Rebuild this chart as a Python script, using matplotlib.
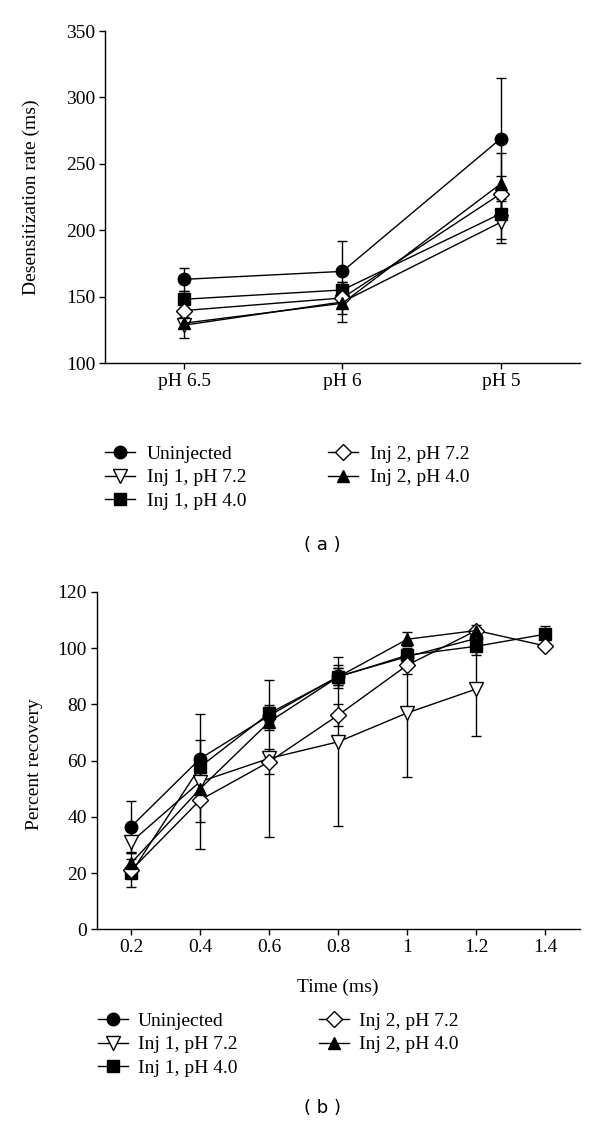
import numpy as np
import matplotlib
matplotlib.use("Agg")
import matplotlib.pyplot as plt

# ---- panel (a): desensitization rate ----
ph_labels = ["pH 6.5", "pH 6", "pH 5"]
a_uninj = [163, 169, 269]
a_uninj_err = [8.5, 22.6, 45.5]
a_inj1_72 = [128.5, 146, 206]
a_inj1_72_err = [9.5, 15, 16]
a_inj1_40 = [148, 155, 212.5]
a_inj1_40_err = [6, 6, 19]
a_inj2_72 = [139.5, 149, 227.5]
a_inj2_72_err = [5, 6, 13]
a_inj2_40 = [130, 145, 235]
a_inj2_40_err = [4, 8, 23]

# ---- panel (b): percent recovery ----
time_ms = [0.2, 0.4, 0.6, 0.8, 1.0, 1.2, 1.4]
time_labels = ["0.2", "0.4", "0.6", "0.8", "1", "1.2", "1.4"]
b_uninj = [36.5, 60.7, 76, 90, 97, 103.5]
b_uninj_err = [9.2, 6.6, 3, 4, 3, 2]
b_inj1_72 = [31, 52.5, 60.8, 66.7, 77, 85.5]
b_inj1_72_err = [4, 24, 28, 30, 22.7, 16.7]
b_inj1_40 = [20, 57.8, 76.8, 89.8, 97.5, 100.7, 105]
b_inj1_40_err = [5, 3, 3, 3, 2, 3, 3]
b_inj2_72 = [21, 46, 59.6, 76.2, 94, 106.3, 100.8]
b_inj2_72_err = [2, 8, 4.5, 4, 3, 1, 1]
b_inj2_40 = [23.5, 50, 73.8, 89.8, 103.2, 106.3]
b_inj2_40_err = [4, 4, 3, 3, 2.4, 2]

labels = ["Uninjected", "Inj 1, pH 7.2", "Inj 1, pH 4.0", "Inj 2, pH 7.2", "Inj 2, pH 4.0"]
markers = ["o", "v", "s", "D", "^"]
faces = ["black", "white", "black", "white", "black"]
sizes = [9, 10, 8, 8, 9]

plt.rcParams["font.family"] = ["Liberation Serif", "DejaVu Serif"]
plt.rcParams["font.size"] = 14

W, H = 600, 1128
fig = plt.figure(figsize=(W / 100, H / 100), dpi=100)


def px_axes(left, top, right, bottom):
    return fig.add_axes([left / W, 1 - bottom / H, (right - left) / W, (bottom - top) / H])


def style(ax):
    ax.spines["top"].set_visible(False)
    ax.spines["right"].set_visible(False)
    for s in ("left", "bottom"):
        ax.spines[s].set_linewidth(1.0)
    ax.tick_params(direction="out", length=4, width=1.0, pad=3, labelsize=14)


def draw(ax, x, series):
    handles = []
    for (y, e), lab, m, fc, ms in zip(series, labels, markers, faces, sizes):
        xs = x[:len(y)]
        h = ax.errorbar(xs, y, yerr=e, fmt="-", color="black", lw=1.0,
                        marker=m, ms=ms, mfc=fc, mec="black", mew=1.0,
                        ecolor="black", elinewidth=1.0, capsize=3.6, capthick=1.0,
                        label=lab)
        handles.append(h[0])
    return handles


# panel (a)
ax1 = px_axes(105, 31, 580, 363)
style(ax1)
xa = np.arange(1, len(ph_labels) + 1)
h1 = draw(ax1, xa, [(a_uninj, a_uninj_err), (a_inj1_72, a_inj1_72_err),
                    (a_inj1_40, a_inj1_40_err), (a_inj2_72, a_inj2_72_err),
                    (a_inj2_40, a_inj2_40_err)])
ax1.set_xlim(0.5, 3.5)
ax1.set_ylim(100, 350)
ax1.set_yticks(np.arange(100, 351, 50))
ax1.set_xticks(xa)
ax1.set_xticklabels(ph_labels)
ax1.set_ylabel("Desensitization rate (ms)")
ax1.yaxis.set_label_coords(-0.137, 0.5)

fig.legend(h1, labels, ncol=2, loc="upper left", frameon=False,
           bbox_to_anchor=(105 / W, 1 - 445 / H), borderaxespad=0, borderpad=0,
           handlelength=1.55, handletextpad=0.6, columnspacing=4.2,
           labelspacing=0.32, fontsize=14)
fig.text(322 / W, 1 - 545 / H, "( a )", family="DejaVu Sans", fontsize=13,
         ha="center", va="center")

# panel (b)
ax2 = px_axes(96.5, 592, 580, 929.3)
style(ax2)
h2 = draw(ax2, np.array(time_ms), [(b_uninj, b_uninj_err), (b_inj1_72, b_inj1_72_err),
                                   (b_inj1_40, b_inj1_40_err), (b_inj2_72, b_inj2_72_err),
                                   (b_inj2_40, b_inj2_40_err)])
ax2.set_xlim(0.1, 1.5)
ax2.set_ylim(0, 120)
ax2.set_yticks(np.arange(0, 121, 20))
ax2.set_xticks(time_ms)
ax2.set_xticklabels(time_labels)
ax2.set_ylabel("Percent recovery")
ax2.yaxis.set_label_coords(-0.111, 0.49)
ax2.set_xlabel("Time (ms)")
ax2.xaxis.set_label_coords(0.5, -0.145)

fig.legend(h2, labels, ncol=2, loc="upper left", frameon=False,
           bbox_to_anchor=(98 / W, 1 - 1012 / H), borderaxespad=0, borderpad=0,
           handlelength=1.55, handletextpad=0.5, columnspacing=4.2,
           labelspacing=0.32, fontsize=14)
fig.text(322 / W, 1 - 1108 / H, "( b )", family="DejaVu Sans", fontsize=13,
         ha="center", va="center")

fig.savefig("out.png", dpi=100, facecolor="white")
